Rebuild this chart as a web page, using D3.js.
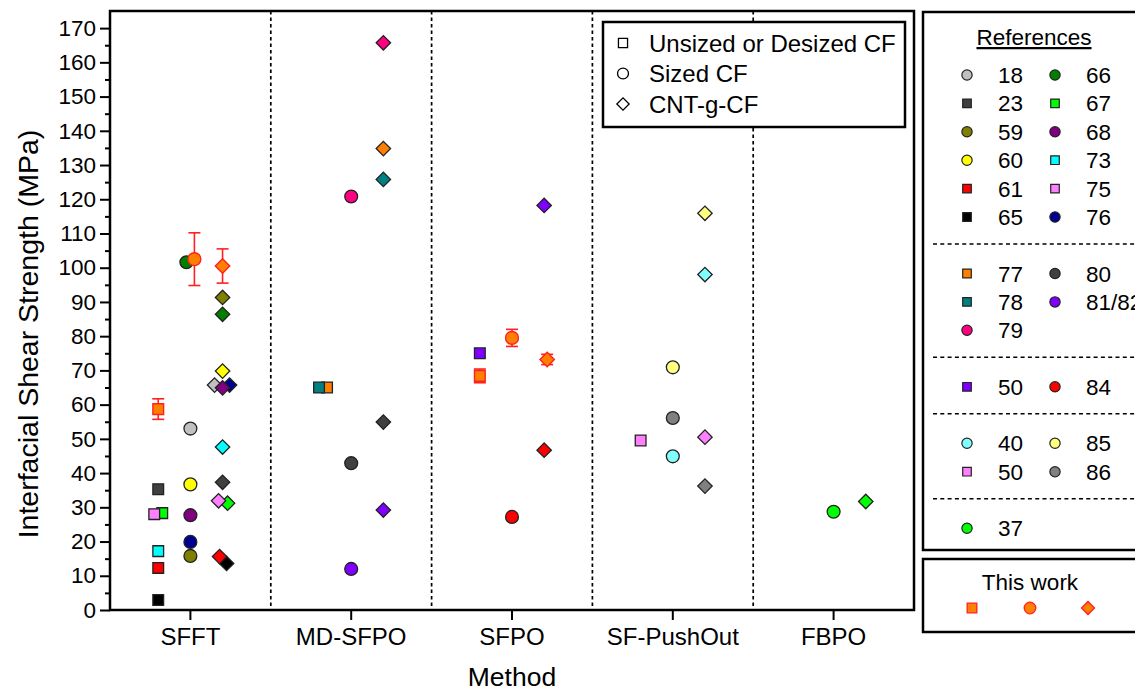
<!DOCTYPE html>
<html>
<head>
<meta charset="utf-8">
<script src="https://cdn.jsdelivr.net/npm/d3@7"></script>
<style>
  body { margin: 0; background: #fff; }
  svg { font-family: "Liberation Sans", Arial, sans-serif; }
</style>
</head>
<body>
<div id="chart"></div>
<script>
// Categories
var methods = ['SFFT', 'MD-SFPO', 'SFPO', 'SF-PushOut', 'FBPO'];
var fiberTypes = ['Unsized or Desized CF', 'Sized CF', 'CNT-g-CF'];
var yTicks = [0, 10, 20, 30, 40, 50, 60, 70, 80, 90, 100, 110, 120, 130, 140, 150, 160, 170];

// Reference colours (key -> fill)
var refColors = {
	'18': '#c0c0c0', '23': '#404040', '59': '#808000', '60': '#ffff00',
	'61': '#ff0000', '65': '#000000', '66': '#007f00', '67': '#00ff00',
	'68': '#800080', '73': '#00ffff', '75': '#ff80ff', '76': '#000090',
	'77': '#ff8000', '78': '#008080', '79': '#ff0080', '80': '#404040',
	'81/82': '#8000ff', '50a': '#8000ff', '84': '#ff0000', '40': '#80ffff',
	'85': '#ffff80', '50b': '#ff80ff', '86': '#808080', '37': '#00ff00'
};

// Points per method: ref, fiber type (0 square, 1 circle, 2 diamond), IFSS, small nudge (px)
var sfftPoints = [
	{ref: '23', t: 0, v: 35.3}, {ref: '67', t: 0, v: 28.3, n: 4}, {ref: '75', t: 0, v: 28.0, n: -4},
	{ref: '73', t: 0, v: 17.2}, {ref: '61', t: 0, v: 12.3}, {ref: '65', t: 0, v: 2.9},
	{ref: '66', t: 1, v: 101.6, n: -4}, {ref: '18', t: 1, v: 53.0}, {ref: '60', t: 1, v: 36.7},
	{ref: '68', t: 1, v: 27.7}, {ref: '76', t: 1, v: 19.9}, {ref: '59', t: 1, v: 15.8},
	{ref: '59', t: 2, v: 91.3}, {ref: '66', t: 2, v: 86.4}, {ref: '60', t: 2, v: 69.8},
	{ref: '18', t: 2, v: 65.7, n: -8}, {ref: '76', t: 2, v: 65.7, n: 7}, {ref: '68', t: 2, v: 64.9},
	{ref: '73', t: 2, v: 47.6}, {ref: '23', t: 2, v: 37.3}, {ref: '67', t: 2, v: 31.2, n: 5},
	{ref: '75', t: 2, v: 31.9, n: -4}, {ref: '65', t: 2, v: 13.6, n: 4}, {ref: '61', t: 2, v: 15.6, n: -3}
];
var mdsfpoPoints = [
	{ref: '77', t: 0, v: 65.0, n: 8}, {ref: '78', t: 0, v: 65.0},
	{ref: '79', t: 1, v: 120.8}, {ref: '80', t: 1, v: 42.9}, {ref: '81/82', t: 1, v: 12.0},
	{ref: '79', t: 2, v: 165.7}, {ref: '77', t: 2, v: 134.8}, {ref: '78', t: 2, v: 125.8},
	{ref: '80', t: 2, v: 54.9}, {ref: '81/82', t: 2, v: 29.2}
];
var sfpoPoints = [
	{ref: '50a', t: 0, v: 75.0},
	{ref: '84', t: 1, v: 27.2},
	{ref: '50a', t: 2, v: 118.2}, {ref: '84', t: 2, v: 46.7}
];
var pushoutPoints = [
	{ref: '50b', t: 0, v: 49.5},
	{ref: '85', t: 1, v: 70.9}, {ref: '86', t: 1, v: 56.1}, {ref: '40', t: 1, v: 44.9},
	{ref: '85', t: 2, v: 115.9}, {ref: '40', t: 2, v: 98.0}, {ref: '50b', t: 2, v: 50.5}, {ref: '86', t: 2, v: 36.2}
];
var fbpoPoints = [
	{ref: '37', t: 1, v: 28.7}, {ref: '37', t: 2, v: 31.7}
];

// This work: method, fiber type, mean, error
var thisWork = [
	{m: 'SFFT', t: 0, v: 58.7, err: 3.0},
	{m: 'SFFT', t: 1, v: 102.5, err: 7.7, n: 4},
	{m: 'SFFT', t: 2, v: 100.5, err: 5.0},
	{m: 'SFPO', t: 0, v: 68.4, err: 2.0},
	{m: 'SFPO', t: 1, v: 79.5, err: 2.5},
	{m: 'SFPO', t: 2, v: 73.2, err: 1.5, n: 3}
];

// Legend rows (groups separated by dashed lines)
var legendGroups = [
	[['18', '66'], ['23', '67'], ['59', '68'], ['60', '73'], ['61', '75'], ['65', '76']],
	[['77', '80'], ['78', '81/82'], ['79']],
	[['50a', '84']],
	[['40', '85'], ['50b', '86']],
	[['37']]
];
var legendShape = {
	'18': 1, '66': 1, '23': 0, '67': 0, '59': 1, '68': 1, '60': 1, '73': 0, '61': 0, '75': 0,
	'65': 0, '76': 1, '77': 0, '80': 1, '78': 0, '81/82': 1, '79': 1, '50a': 0, '84': 1,
	'40': 1, '85': 1, '50b': 0, '86': 1, '37': 1
};

var fullWidth = 1135, fullHeight = 693;
var plot = {left: 110, right: 914, top: 11, bottom: 610};
var font = '"Liberation Sans", Arial, sans-serif';

var svg = d3.select('#chart')
	.append('svg')
	.attr('width', fullWidth)
	.attr('height', fullHeight);

// Scales
var xScale = d3.scaleBand()
	.domain(methods)
	.range([plot.left, plot.right])
	.padding(0);

var subScale = d3.scalePoint()
	.domain([0, 1, 2])
	.range([-0.2 * xScale.bandwidth(), 0.2 * xScale.bandwidth()]);

var yScale = d3.scaleLinear()
	.domain([0, 175])
	.range([plot.bottom, plot.top]);

// symbol generators: square, circle, diamond (rotated square)
function symbolPath(t, scale) {
	scale = scale || 1;
	if (t === 0) return d3.symbol().type(d3.symbolSquare).size(115 * scale * scale)();
	if (t === 1) return d3.symbol().type(d3.symbolCircle).size(130 * scale * scale)();
	return d3.symbol().type(d3.symbolSquare).size(104 * scale * scale)();
}
function symbolRot(t) { return t === 2 ? ' rotate(45)' : ''; }

// Dashed separators between methods
svg.append('g')
	.selectAll('line')
	.data(methods.slice(1))
	.enter()
	.append('line')
	.attr('x1', function(d) { return xScale(d); })
	.attr('x2', function(d) { return xScale(d); })
	.attr('y1', plot.top)
	.attr('y2', plot.bottom)
	.attr('stroke', '#000')
	.attr('stroke-width', 1.7)
	.attr('stroke-dasharray', '3.5,3');

// Y axis (major + minor ticks)
var yAxis = svg.append('g')
	.attr('transform', 'translate(' + plot.left + ',0)')
	.call(d3.axisLeft(yScale).tickValues(yTicks).tickSize(10).tickPadding(4));
yAxis.select('.domain').remove();
yAxis.selectAll('line').attr('stroke-width', 2);
yAxis.selectAll('text').attr('font-size', 22.5).attr('fill', '#000').attr('font-family', font);

var yMinor = svg.append('g')
	.attr('transform', 'translate(' + plot.left + ',0)')
	.call(d3.axisLeft(yScale).tickValues(d3.range(5, 175, 10)).tickSize(5).tickFormat(''));
yMinor.select('.domain').remove();
yMinor.selectAll('line').attr('stroke-width', 2);

// X axis
var xAxis = svg.append('g')
	.attr('transform', 'translate(0,' + plot.bottom + ')')
	.call(d3.axisBottom(xScale).tickSize(10).tickPadding(8));
xAxis.select('.domain').remove();
xAxis.selectAll('line').attr('stroke-width', 2);
xAxis.selectAll('text').attr('font-size', 24).attr('fill', '#000').attr('font-family', font);

// Frame
svg.append('rect')
	.attr('x', plot.left)
	.attr('y', plot.top)
	.attr('width', plot.right - plot.left)
	.attr('height', plot.bottom - plot.top)
	.attr('fill', 'none')
	.attr('stroke', '#000')
	.attr('stroke-width', 2.5);

// Axis titles
svg.append('text')
	.attr('x', (plot.left + plot.right) / 2)
	.attr('y', 686)
	.attr('text-anchor', 'middle')
	.attr('font-size', 26.5)
	.text('Method');

svg.append('text')
	.attr('transform', 'translate(38,' + 334 + ') rotate(-90)')
	.attr('text-anchor', 'middle')
	.attr('font-size', 28.5)
	.text('Interfacial Shear Strength (MPa)');

// Data points
var allPoints = [
	{m: 'SFFT', pts: sfftPoints},
	{m: 'MD-SFPO', pts: mdsfpoPoints},
	{m: 'SFPO', pts: sfpoPoints},
	{m: 'SF-PushOut', pts: pushoutPoints},
	{m: 'FBPO', pts: fbpoPoints}
];
function px(m, t, n) { return xScale(m) + xScale.bandwidth() / 2 + subScale(t) + (n || 0); }

var gPts = svg.append('g');
allPoints.forEach(function(group) {
	gPts.selectAll(null)
		.data(group.pts)
		.enter()
		.append('path')
		.attr('d', function(d) { return symbolPath(d.t); })
		.attr('transform', function(d) {
			return 'translate(' + px(group.m, d.t, d.n) + ',' + yScale(d.v) + ')' + symbolRot(d.t);
		})
		.attr('fill', function(d) { return refColors[d.ref]; })
		.attr('stroke', '#222')
		.attr('stroke-width', 1.3);
});

// This work with error bars
var gWork = svg.append('g');
var eb = gWork.selectAll('g.eb')
	.data(thisWork)
	.enter()
	.append('g')
	.attr('stroke', '#ff2020')
	.attr('stroke-width', 1.6);
eb.append('line')
	.attr('x1', function(d) { return px(d.m, d.t, d.n); })
	.attr('x2', function(d) { return px(d.m, d.t, d.n); })
	.attr('y1', function(d) { return yScale(d.v - d.err); })
	.attr('y2', function(d) { return yScale(d.v + d.err); });
[-1, 1].forEach(function(s) {
	eb.append('line')
		.attr('x1', function(d) { return px(d.m, d.t, d.n) - 6; })
		.attr('x2', function(d) { return px(d.m, d.t, d.n) + 6; })
		.attr('y1', function(d) { return yScale(d.v + s * d.err); })
		.attr('y2', function(d) { return yScale(d.v + s * d.err); });
});
gWork.selectAll('path')
	.data(thisWork)
	.enter()
	.append('path')
	.attr('d', function(d) { return symbolPath(d.t); })
	.attr('transform', function(d) {
		return 'translate(' + px(d.m, d.t, d.n) + ',' + yScale(d.v) + ')' + symbolRot(d.t);
	})
	.attr('fill', '#ff8000')
	.attr('stroke', '#ff2020')
	.attr('stroke-width', 1.4);

// Fiber type legend
var typeLegend = svg.append('g');
typeLegend.append('rect')
	.attr('x', 603).attr('y', 22).attr('width', 302).attr('height', 105)
	.attr('fill', '#fff').attr('stroke', '#000').attr('stroke-width', 2.5);
fiberTypes.forEach(function(name, i) {
	var y = 43 + i * 30.5;
	typeLegend.append('path')
		.attr('d', symbolPath(i, 0.85))
		.attr('transform', 'translate(623,' + y + ')' + symbolRot(i))
		.attr('fill', 'none')
		.attr('stroke', '#000')
		.attr('stroke-width', 1.3);
	typeLegend.append('text')
		.attr('x', 649).attr('y', y + 8.5)
		.attr('font-size', 24)
		.text(name);
});

// References legend
var refLegend = svg.append('g');
refLegend.append('rect')
	.attr('x', 923).attr('y', 12).attr('width', 230).attr('height', 538)
	.attr('fill', '#fff').attr('stroke', '#000').attr('stroke-width', 2.5);
refLegend.append('text')
	.attr('x', 1034).attr('y', 45)
	.attr('text-anchor', 'middle')
	.attr('font-size', 22.5)
	.attr('text-decoration', 'underline')
	.text('References');

var rowY = 75;
legendGroups.forEach(function(rows, gi) {
	if (gi > 0) {
		var dashY = rowY - 28.4 + 27;
		refLegend.append('line')
			.attr('x1', 933).attr('x2', 1140)
			.attr('y1', dashY).attr('y2', dashY)
			.attr('stroke', '#000').attr('stroke-width', 1.6)
			.attr('stroke-dasharray', '4,3.3');
		rowY = dashY + 29.5;
	}
	rows.forEach(function(row) {
		row.forEach(function(ref, ci) {
			var mx = ci === 0 ? 967 : 1055;
			var shape = legendShape[ref];
			refLegend.append('path')
				.attr('d', symbolPath(shape, 0.8))
				.attr('transform', 'translate(' + mx + ',' + rowY + ')')
				.attr('fill', refColors[ref])
				.attr('stroke', '#222')
				.attr('stroke-width', 1.2);
			refLegend.append('text')
				.attr('x', mx + 31).attr('y', rowY + 8)
				.attr('font-size', 22.5)
				.text(ref.replace(/[ab]$/, ''));
		});
		rowY += 28.4;
	});
});

// This work legend
var workLegend = svg.append('g');
workLegend.append('rect')
	.attr('x', 923).attr('y', 559).attr('width', 230).attr('height', 73)
	.attr('fill', '#fff').attr('stroke', '#000').attr('stroke-width', 2.5);
workLegend.append('text')
	.attr('x', 1030).attr('y', 590)
	.attr('text-anchor', 'middle')
	.attr('font-size', 22.5)
	.text('This work');
[0, 1, 2].forEach(function(t, i) {
	workLegend.append('path')
		.attr('d', symbolPath(t, 0.9))
		.attr('transform', 'translate(' + (972 + i * 58) + ',608)' + symbolRot(t))
		.attr('fill', '#ff8000')
		.attr('stroke', '#ff2020')
		.attr('stroke-width', 1.3);
});
</script>
</body>
</html>
